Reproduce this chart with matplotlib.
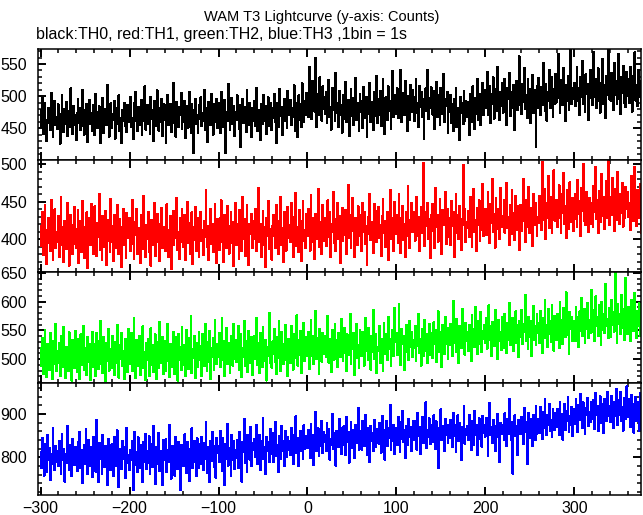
import numpy as np
import matplotlib
matplotlib.use("Agg")
import matplotlib.pyplot as plt
from matplotlib.ticker import MultipleLocator

plt.rcParams['font.family'] = ['Liberation Sans', 'DejaVu Sans']

title = "WAM T3 Lightcurve (y-axis: Counts)"
subtitle = "black:TH0, red:TH1, green:TH2, blue:TH3 ,1bin = 1s"
t_start = -300  # first 1 s bin

th0 = [
478, 452, 497, 441, 470, 489, 463, 430, 458, 482, 471, 447, 505, 462, 436, 476, 493, 455, 468, 449,
487, 459, 426, 472, 501, 466, 444, 480, 457, 491, 438, 469, 477, 452, 512, 463, 441, 485, 470, 455,
432, 474, 496, 458, 481, 447, 467, 509, 453, 440, 478, 461, 488, 429, 470, 494, 457, 473, 445, 486,
462, 439, 503, 476, 451, 468, 484, 427, 471, 458, 497, 443, 466, 480, 455, 518, 460, 437, 475, 489,
450, 472, 463, 492, 434, 469, 481, 456, 501, 445, 466, 427, 478, 462, 490, 453, 471, 444, 486, 459,
475, 498, 452, 466, 433, 489, 470, 507, 461, 446, 483, 468, 455, 494, 439, 477, 462, 515, 448, 471,
486, 457, 472, 441, 499, 464, 478, 430, 492, 467, 453, 509, 473, 446, 481, 460, 496, 438, 475, 487,
463, 427, 479, 502, 455, 470, 488, 444, 466, 521, 458, 475, 437, 491, 468, 452, 483, 470, 505, 449,
476, 460, 493, 435, 484, 469, 451, 507, 472, 443, 488, 463, 412, 479, 495, 456, 470, 442, 486, 465,
498, 453, 474, 461, 510, 447, 482, 468, 429, 491, 466, 455, 503, 474, 440, 487, 459, 478, 496, 450,
471, 489, 443, 506, 465, 478, 452, 494, 411, 475, 461, 519, 480, 448, 470, 497, 457, 484, 438, 476,
463, 501, 477, 449, 486, 421, 472, 495, 458, 483, 466, 444, 509, 473, 455, 490, 468, 436, 481, 462,
492, 454, 475, 513, 446, 479, 467, 431, 488, 470, 456, 502, 462, 485, 441, 476, 498, 453, 472, 489,
447, 481, 466, 503, 459, 427, 490, 474, 452, 511, 469, 483, 439, 477, 496, 461, 485, 450, 508, 470,
478, 494, 455, 482, 468, 517, 446, 489, 473, 436, 501, 463, 487, 452, 520, 476, 459, 492, 471, 505,
497, 468, 545, 482, 510, 464, 523, 491, 476, 560, 452, 503, 487, 471, 529, 494, 462, 515, 480, 498,
472, 506, 458, 491, 525, 467, 483, 448, 512, 479, 495, 461, 536, 474, 489, 452, 508, 470, 486, 443,
501, 465, 488, 522, 459, 477, 494, 438, 483, 511, 469, 497, 455, 480, 528, 463, 490, 473, 445, 504,
476, 493, 451, 514, 482, 466, 499, 436, 487, 472, 520, 460, 491, 478, 447, 506, 469, 485, 531, 458,
495, 470, 508, 453, 486, 526, 474, 441, 498, 481, 463, 515, 477, 492, 449, 484, 539, 467, 501, 472,
483, 512, 466, 497, 478, 541, 459, 505, 489, 470, 523, 481, 445, 500, 492, 463, 518, 476, 509, 487,
461, 499, 527, 474, 490, 452, 516, 483, 506, 468, 495, 433, 488, 512, 477, 540, 465, 497, 482, 514,
493, 471, 508, 449, 486, 522, 467, 501, 479, 455, 513, 490, 472, 535, 460, 496, 484, 507, 442, 489,
476, 502, 458, 487, 445, 495, 470, 513, 452, 481, 466, 431, 499, 474, 489, 456, 508, 462, 493, 479,
467, 491, 440, 503, 478, 460, 515, 485, 449, 497, 472, 526, 463, 488, 504, 455, 481, 520, 470, 494,
509, 482, 538, 471, 496, 515, 458, 503, 487, 529, 465, 498, 511, 477, 546, 490, 463, 506, 484, 520,
474, 501, 527, 488, 455, 512, 495, 536, 469, 490, 507, 482, 518, 447, 499, 524, 478, 493, 562, 486,
505, 472, 519, 491, 543, 480, 502, 466, 527, 496, 511, 458, 488, 533, 474, 509, 495, 421, 516, 482,
528, 493, 471, 514, 486, 552, 500, 477, 519, 462, 506, 492, 541, 481, 498, 529, 468, 511, 487, 535,
490, 518, 566, 497, 473, 525, 508, 486, 544, 500, 461, 517, 492, 531, 479, 505, 572, 488, 513, 496,
521, 484, 507, 546, 492, 513, 470, 529, 498, 555, 487, 510, 476, 534, 503, 519, 463, 497, 541, 508,
486, 515, 569, 499, 527, 481, 506, 543, 492, 474, 520, 509, 558, 488, 517, 466, 531, 502, 574, 495,
519, 493, 536, 508, 478, 552, 501, 524, 487, 511, 565, 496, 472, 529, 505, 547, 490, 518, 483, 538,
500, 527, 489, 545, 512, 476, 531, 504, 568, 493, 517, 485, 540, 509, 498, 523, 480, 551, 506, 515,
]

th1 = [
418, 391, 437, 379, 402, 446, 413, 367, 395, 428, 407, 384, 452, 399, 372, 421, 440, 389, 410, 396,
431, 376, 405, 457, 393, 416, 370, 424, 401, 387, 448, 412, 365, 398, 433, 409, 381, 419, 443, 394,
388, 414, 439, 368, 406, 425, 383, 451, 397, 375, 417, 404, 436, 362, 410, 429, 392, 447, 401, 380,
412, 444, 395, 378, 422, 403, 461, 386, 409, 373, 431, 415, 390, 438, 366, 407, 426, 398, 383, 454,
396, 418, 371, 433, 405, 389, 446, 412, 380, 427, 399, 363, 416, 441, 393, 408, 375, 435, 402, 420,
429, 385, 410, 453, 394, 374, 423, 406, 440, 381, 415, 398, 368, 432, 411, 387, 458, 403, 377, 419,
401, 437, 383, 414, 365, 426, 408, 392, 449, 378, 412, 434, 396, 421, 371, 405, 442, 388, 416, 399,
384, 422, 447, 400, 376, 413, 431, 361, 407, 438, 393, 419, 402, 455, 386, 410, 374, 428, 397, 441,
415, 390, 433, 372, 409, 450, 395, 422, 381, 404, 436, 367, 417, 399, 443, 385, 411, 428, 376, 406,
437, 398, 412, 379, 425, 403, 466, 390, 418, 373, 409, 440, 394, 421, 383, 414, 447, 400, 369, 427,
411, 386, 428, 452, 397, 415, 370, 433, 405, 389, 444, 418, 381, 409, 436, 395, 423, 364, 413, 448,
392, 420, 403, 374, 439, 410, 385, 457, 400, 427, 378, 414, 446, 396, 366, 421, 407, 434, 388, 416,
425, 401, 441, 384, 412, 469, 397, 420, 376, 408, 438, 392, 417, 363, 429, 404, 451, 387, 414, 399,
373, 418, 432, 405, 389, 446, 411, 380, 424, 400, 456, 393, 415, 370, 437, 408, 385, 426, 443, 402,
419, 396, 448, 412, 377, 430, 404, 462, 391, 416, 383, 439, 407, 371, 425, 451, 398, 413, 389, 434,
405, 441, 420, 385, 459, 412, 396, 428, 374, 434, 416, 401, 467, 390, 423, 409, 380, 446, 415, 398,
429, 391, 418, 452, 403, 437, 376, 421, 410, 463, 395, 427, 384, 415, 448, 400, 431, 369, 419, 442,
398, 426, 406, 439, 381, 417, 473, 402, 433, 389, 420, 455, 411, 377, 428, 414, 392, 444, 405, 432,
422, 385, 449, 410, 436, 394, 418, 366, 430, 407, 461, 399, 423, 413, 382, 447, 409, 427, 396, 438,
443, 402, 419, 378, 431, 454, 408, 425, 390, 414, 437, 372, 421, 466, 400, 429, 411, 385, 450, 416,
407, 433, 395, 460, 414, 382, 428, 445, 399, 420, 376, 437, 412, 471, 404, 389, 426, 448, 410, 431,
436, 398, 422, 457, 405, 430, 384, 415, 443, 409, 502, 424, 391, 437, 418, 449, 401, 427, 375, 432,
411, 447, 425, 389, 468, 416, 433, 397, 421, 454, 406, 380, 439, 419, 428, 463, 394, 414, 441, 403,
429, 392, 451, 418, 436, 377, 424, 460, 409, 432, 401, 445, 414, 386, 427, 499, 419, 440, 396, 423,
415, 438, 403, 456, 424, 390, 431, 467, 410, 426, 385, 442, 419, 452, 398, 430, 412, 474, 405, 437,
441, 406, 429, 463, 418, 395, 447, 422, 481, 410, 434, 389, 455, 426, 414, 440, 401, 468, 431, 417,
420, 452, 409, 437, 475, 415, 430, 392, 446, 423, 466, 407, 435, 399, 458, 428, 412, 444, 386, 433,
446, 411, 439, 480, 424, 396, 453, 431, 417, 470, 408, 442, 427, 391, 461, 436, 419, 449, 404, 430,
422, 458, 437, 413, 503, 441, 426, 467, 400, 448, 429, 485, 415, 439, 457, 408, 434, 492, 425, 445,
453, 417, 440, 472, 428, 409, 461, 435, 488, 421, 444, 402, 466, 430, 414, 476, 437, 423, 455, 411,
427, 460, 442, 416, 479, 434, 451, 405, 468, 438, 500, 425, 447, 419, 463, 431, 410, 455, 440, 421,
448, 416, 471, 436, 496, 427, 452, 408, 465, 440, 423, 487, 431, 457, 414, 443, 478, 429, 504, 438,
419, 456, 433, 482, 445, 411, 467, 438, 426, 490, 447, 420, 461, 435, 475, 417, 452, 428, 470, 441,
463, 430, 449, 412, 485, 441, 456, 424, 496, 437, 418, 466, 445, 429, 474, 451, 408, 460, 439, 447,
]

th2 = [
519, 488, 537, 474, 503, 551, 496, 469, 527, 510, 482, 545, 498, 465, 531, 507, 491, 562, 479, 514,
493, 528, 471, 540, 505, 486, 556, 500, 468, 522, 511, 479, 547, 494, 517, 463, 533, 502, 485, 549,
512, 477, 535, 498, 466, 543, 508, 490, 558, 481, 520, 503, 472, 539, 495, 527, 464, 516, 548, 487,
526, 499, 470, 545, 509, 483, 531, 567, 492, 515, 476, 538, 504, 462, 529, 497, 552, 480, 518, 506,
484, 541, 507, 473, 530, 494, 560, 512, 468, 524, 501, 546, 489, 514, 465, 536, 498, 521, 478, 553,
517, 492, 546, 480, 509, 571, 497, 467, 533, 505, 488, 541, 473, 522, 500, 557, 485, 513, 464, 528,
499, 536, 471, 518, 554, 490, 525, 477, 508, 543, 466, 530, 503, 484, 565, 510, 493, 539, 475, 521,
532, 480, 509, 561, 496, 469, 527, 512, 487, 548, 501, 474, 538, 515, 463, 544, 498, 522, 481, 556,
490, 524, 505, 470, 551, 513, 483, 537, 497, 575, 476, 518, 502, 541, 468, 529, 510, 486, 547, 499,
523, 471, 543, 507, 488, 562, 514, 479, 530, 496, 549, 465, 520, 504, 537, 482, 568, 511, 492, 526,
504, 545, 486, 519, 572, 498, 531, 470, 516, 555, 492, 528, 507, 476, 541, 513, 489, 561, 500, 534,
495, 527, 558, 482, 514, 543, 469, 520, 503, 566, 488, 532, 510, 477, 549, 516, 494, 538, 472, 525,
540, 501, 518, 571, 490, 529, 476, 545, 508, 486, 556, 515, 497, 534, 463, 522, 506, 580, 493, 517,
485, 531, 509, 552, 496, 474, 539, 521, 567, 502, 480, 547, 513, 491, 527, 560, 499, 518, 471, 536,
528, 494, 557, 511, 482, 543, 520, 502, 576, 489, 533, 507, 549, 476, 524, 514, 563, 497, 538, 505,
512, 548, 483, 530, 569, 506, 541, 492, 525, 584, 500, 537, 515, 475, 553, 521, 496, 545, 509, 532,
541, 503, 527, 575, 494, 536, 516, 478, 551, 522, 499, 562, 510, 533, 487, 546, 519, 504, 570, 528,
497, 534, 555, 511, 480, 543, 526, 508, 579, 491, 538, 517, 546, 473, 529, 561, 502, 524, 485, 550,
533, 506, 548, 520, 489, 572, 515, 537, 498, 554, 527, 482, 540, 512, 586, 501, 531, 544, 476, 522,
514, 557, 493, 536, 521, 480, 563, 509, 543, 527, 499, 574, 518, 535, 488, 551, 523, 505, 589, 530,
545, 507, 532, 596, 518, 490, 553, 526, 541, 481, 537, 560, 512, 529, 498, 566, 521, 547, 503, 534,
519, 558, 497, 540, 523, 578, 511, 535, 489, 552, 528, 506, 569, 515, 544, 493, 531, 561, 508, 546,
539, 502, 564, 527, 551, 495, 536, 583, 513, 548, 522, 487, 559, 533, 509, 574, 526, 541, 500, 555,
524, 562, 538, 505, 601, 529, 546, 512, 570, 535, 494, 557, 541, 519, 588, 527, 550, 508, 563, 532,
548, 515, 559, 536, 497, 577, 530, 553, 521, 591, 539, 509, 566, 544, 526, 582, 512, 549, 535, 560,
529, 571, 518, 546, 594, 533, 557, 505, 565, 540, 523, 586, 537, 552, 500, 568, 531, 547, 516, 574,
556, 520, 579, 541, 510, 563, 534, 598, 525, 550, 537, 572, 514, 546, 583, 528, 559, 503, 567, 539,
542, 585, 527, 561, 548, 612, 531, 555, 518, 574, 539, 566, 506, 550, 592, 534, 558, 524, 579, 545,
563, 528, 584, 547, 510, 571, 552, 603, 536, 559, 521, 587, 544, 566, 530, 595, 549, 515, 575, 541,
534, 578, 555, 519, 600, 546, 568, 527, 589, 551, 538, 616, 542, 561, 509, 582, 553, 573, 531, 564,
566, 532, 591, 555, 574, 521, 583, 549, 607, 540, 562, 588, 528, 571, 553, 598, 537, 569, 545, 620,
548, 585, 562, 531, 609, 557, 573, 540, 594, 566, 524, 600, 551, 579, 545, 631, 558, 570, 536, 589,
571, 538, 603, 559, 582, 548, 650, 566, 529, 596, 561, 578, 543, 612, 554, 587, 533, 574, 641, 560,
544, 590, 567, 531, 603, 559, 578, 549, 615, 563, 536, 584, 557, 597, 541, 572, 566, 590, 553, 580,
]

th3 = [
812, 776, 845, 790, 758, 831, 803, 767, 852, 794, 821, 748, 808, 784, 869, 797, 770, 826, 789, 815,
779, 838, 801, 762, 855, 793, 819, 744, 808, 786, 873, 805, 771, 829, 798, 757, 842, 812, 783, 824,
806, 768, 835, 791, 859, 776, 817, 740, 802, 828, 785, 866, 797, 761, 841, 809, 780, 823, 755, 848,
788, 821, 767, 886, 803, 742, 834, 796, 815, 761, 852, 799, 778, 827, 806, 737, 843, 792, 819, 771,
830, 795, 756, 848, 812, 779, 863, 790, 731, 820, 805, 774, 839, 797, 823, 752, 811, 868, 786, 806,
771, 817, 794, 838, 724, 801, 859, 783, 812, 765, 846, 798, 776, 829, 807, 743, 836, 790, 855, 773,
814, 788, 849, 762, 802, 831, 777, 872, 796, 738, 823, 809, 785, 857, 769, 815, 792, 736, 841, 804,
795, 842, 766, 818, 789, 876, 803, 751, 827, 781, 810, 758, 848, 798, 772, 835, 812, 725, 829, 787,
822, 780, 853, 797, 764, 836, 808, 745, 819, 792, 867, 775, 813, 838, 789, 757, 844, 801, 776, 830,
785, 848, 811, 770, 833, 797, 881, 763, 824, 806, 742, 839, 791, 858, 815, 778, 826, 753, 844, 809,
827, 790, 862, 803, 768, 845, 812, 735, 831, 797, 878, 781, 822, 809, 756, 852, 794, 837, 772, 818,
798, 841, 775, 827, 859, 805, 744, 836, 813, 889, 787, 829, 766, 852, 810, 795, 871, 781, 834, 818,
843, 801, 829, 876, 784, 817, 852, 770, 838, 809, 891, 796, 825, 761, 848, 814, 835, 789, 866, 807,
812, 857, 790, 835, 881, 803, 828, 766, 849, 821, 796, 873, 814, 838, 779, 862, 825, 800, 846, 818,
839, 806, 868, 823, 784, 852, 831, 895, 810, 844, 779, 827, 861, 815, 838, 797, 874, 820, 849, 832,
821, 863, 840, 798, 877, 829, 852, 783, 846, 906, 815, 838, 867, 804, 843, 826, 885, 811, 858, 835,
851, 814, 879, 837, 866, 795, 843, 828, 901, 819, 856, 838, 781, 862, 847, 823, 889, 834, 808, 869,
829, 872, 845, 806, 893, 836, 859, 788, 848, 881, 822, 864, 841, 799, 876, 833, 852, 915, 817, 846,
861, 818, 884, 843, 827, 898, 835, 806, 869, 851, 790, 873, 838, 857, 814, 886, 845, 823, 866, 839,
832, 879, 852, 811, 896, 840, 863, 795, 858, 884, 826, 867, 845, 922, 818, 856, 838, 875, 807, 861,
868, 829, 893, 850, 812, 881, 843, 907, 836, 864, 799, 872, 851, 829, 889, 846, 870, 815, 858, 884,
839, 885, 857, 818, 902, 849, 871, 808, 866, 894, 833, 876, 855, 927, 822, 863, 846, 890, 831, 869,
874, 836, 897, 855, 820, 883, 862, 776, 868, 848, 911, 839, 873, 857, 815, 889, 852, 876, 834, 866,
845, 887, 861, 824, 903, 850, 876, 812, 866, 897, 838, 879, 856, 793, 871, 848, 918, 832, 865, 851,
872, 839, 899, 858, 817, 884, 866, 829, 907, 851, 876, 805, 869, 890, 843, 862, 825, 895, 856, 874,
848, 891, 863, 803, 878, 925, 852, 870, 834, 887, 859, 815, 873, 848, 901, 866, 790, 879, 853, 868,
876, 841, 902, 862, 827, 889, 854, 936, 868, 839, 881, 762, 865, 897, 849, 873, 805, 886, 858, 871,
853, 894, 867, 830, 914, 859, 881, 784, 872, 903, 845, 888, 861, 827, 898, 866, 840, 919, 855, 877,
889, 857, 917, 876, 843, 905, 868, 936, 882, 851, 898, 874, 923, 860, 887, 848, 911, 879, 864, 903,
871, 913, 886, 852, 929, 878, 900, 841, 895, 924, 863, 907, 884, 940, 858, 896, 875, 916, 849, 902,
911, 876, 935, 894, 859, 921, 887, 946, 901, 868, 927, 892, 853, 914, 898, 938, 873, 906, 882, 929,
889, 932, 905, 866, 948, 897, 919, 860, 912, 941, 879, 924, 900, 856, 935, 908, 883, 952, 895, 917,
918, 881, 943, 903, 867, 929, 896, 958, 910, 874, 932, 899, 951, 885, 916, 862, 938, 905, 889, 964,
894, 936, 909, 871, 945, 898, 923, 857, 916, 940, 883, 927, 902, 862, 949, 911, 892, 931, 876, 918,
]

series = [th0, th1, th2, th3]
colors = ['#000000', '#ff0000', '#00ff00', '#0000ff']
ylims = [(400.5, 574), (357, 505.5), (458, 652), (713, 971)]
ymajor = [50, 50, 50, 100]
yminor = [10, 10, 10, 20]
xlim = (-303.5, 375)

W, H = 643, 515
fig = plt.figure(figsize=(W / 100, H / 100), dpi=100)
left_px, right_px = 37.5, 641
bounds = [48.5, 160.1, 271.7, 383.4, 495]

for i, (vals, col) in enumerate(zip(series, colors)):
    top, bot = bounds[i], bounds[i + 1]
    ax = fig.add_axes([left_px / W, 1 - bot / H, (right_px - left_px) / W, (bot - top) / H])
    t = np.arange(len(vals)) + t_start
    ax.plot(t, vals, color=col, lw=0.7, drawstyle='steps-mid', antialiased=False)
    ax.set_xlim(*xlim)
    ax.set_ylim(*ylims[i])
    ax.xaxis.set_major_locator(MultipleLocator(100))
    ax.xaxis.set_minor_locator(MultipleLocator(20))
    ax.yaxis.set_major_locator(MultipleLocator(ymajor[i]))
    ax.yaxis.set_minor_locator(MultipleLocator(yminor[i]))
    ax.tick_params(which='both', direction='in', top=True, right=True, labelsize=11.5)
    ax.tick_params(which='major', length=5.8, width=1.4)
    ax.tick_params(which='minor', length=2.9, width=1.1)
    ax.tick_params(axis='y', pad=7.5)
    ax.tick_params(axis='x', pad=4.5)
    for s in ax.spines.values():
        s.set_linewidth(1.1)
    if i < 3:
        ax.tick_params(axis='x', labelbottom=False)

fig.text(0.5, 1 - 17 / H, title, ha='center', va='center', fontsize=10.5)
fig.text(36 / W, 1 - 35 / H, subtitle, ha='left', va='center', fontsize=11.5)

fig.savefig('out.png', dpi=100)
